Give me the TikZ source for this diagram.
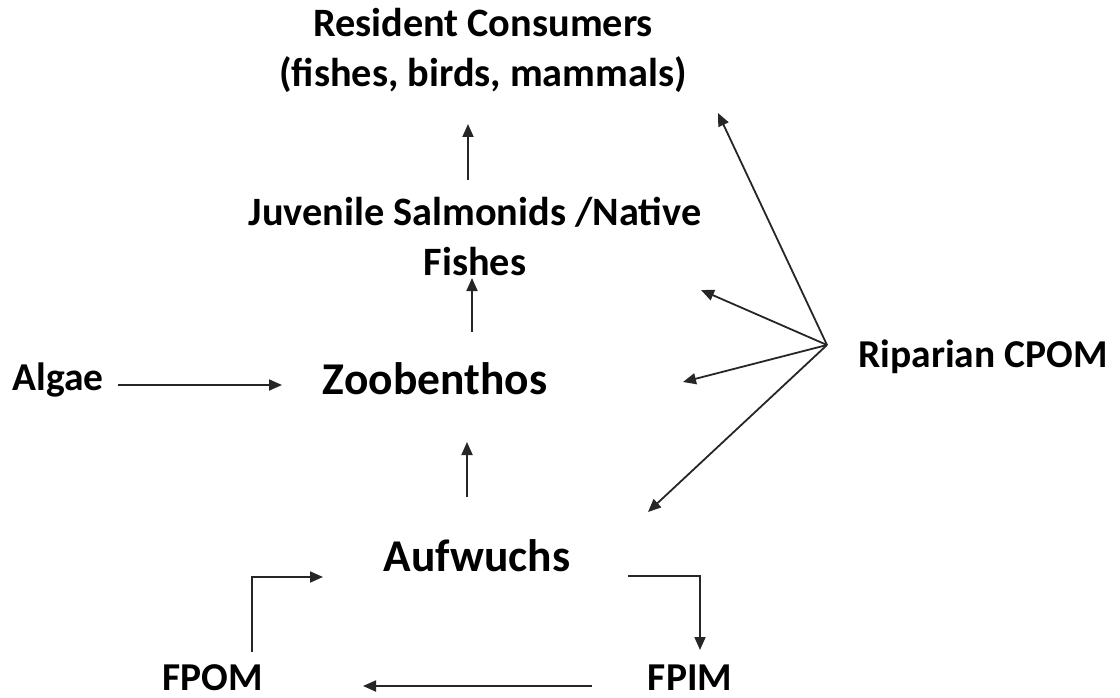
\documentclass[tikz,border=0pt]{standalone}
\usepackage{fontspec}
\setmainfont{Carlito}
\usetikzlibrary{arrows.meta}
\tikzset{
  lbl/.style={inner sep=0pt, anchor=base, text=black, font=\bfseries\fontsize{39.5}{50}\selectfont},
  biglbl/.style={lbl, font=\bfseries\fontsize{45.5}{50}\selectfont},
  twolbl/.style={lbl, align=center, font=\bfseries\fontsize{40.3}{50}\selectfont},
  conn/.style={draw=black!85, line width=1.8pt, -{Triangle[length=13pt,width=11pt]}},
}
\begin{document}
\begin{tikzpicture}[x=1pt,y=-1pt]
\useasboundingbox (0,0) rectangle (1120,698);
% nodes (two-line nodes are placed at the baseline of their last line)
\node[twolbl] (res) at (483,87) {Resident Consumers\\(fishes, birds, mammals)};
\node[twolbl] (juv) at (475,275) {Juvenile Salmonids /Native\\Fishes};
\node[biglbl] (zoo) at (435,394) {Zoobenthos};
\node[lbl] (alg) at (58,390) {Algae};
\node[lbl] (rip) at (983,367) {Riparian CPOM};
\node[biglbl] (auf) at (477,571) {Aufwuchs};
\node[lbl] (fpom) at (213,690) {FPOM};
\node[lbl] (fpim) at (690,690) {FPIM};
% connector end points
\coordinate (hub) at (827,345);
\coordinate (juvS) at (468,180); \coordinate (resS) at (468,124);
\coordinate (zooN) at (472,332); \coordinate (juvB) at (472,278);
\coordinate (aufN) at (467,497); \coordinate (zooB) at (467,442);
\coordinate (algE) at (118,385); \coordinate (zooW) at (282,385);
\coordinate (resE) at (718,113);
\coordinate (juvE) at (701,290);
\coordinate (zooE) at (683,382);
\coordinate (aufE) at (648,512);
\coordinate (fpomN) at (252,652); \coordinate (aufW) at (323,577);
\coordinate (aufR) at (628,576); \coordinate (fpimN) at (700,650);
\coordinate (fpimW) at (592,686); \coordinate (fpomE) at (363,686);
% connectors
\draw[conn] (juvS) -- (resS);
\draw[conn] (zooN) -- (juvB);
\draw[conn] (aufN) -- (zooB);
\draw[conn] (algE) -- (zooW);
\draw[conn] (hub) -- (resE);
\draw[conn] (hub) -- (juvE);
\draw[conn] (hub) -- (zooE);
\draw[conn] (hub) -- (aufE);
\draw[conn] (fpomN) |- (aufW);
\draw[conn] (aufR) -| (fpimN);
\draw[conn] (fpimW) -- (fpomE);
\end{tikzpicture}
\end{document}
